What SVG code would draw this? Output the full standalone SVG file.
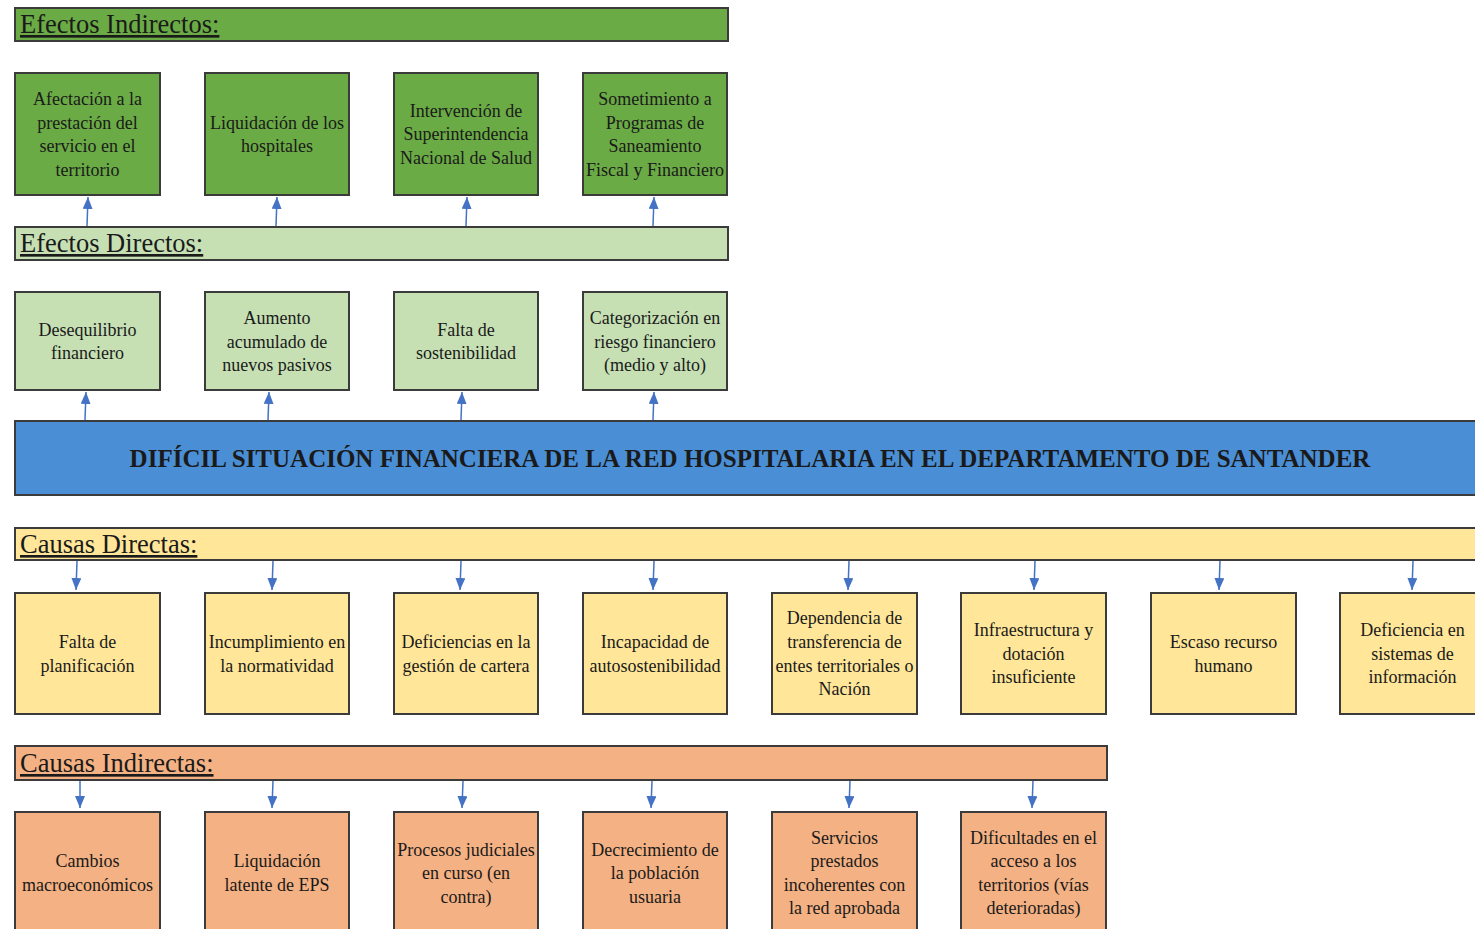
<svg xmlns="http://www.w3.org/2000/svg" width="1475" height="929" viewBox="0 0 1475 929">
<defs>
<marker id="ah" markerWidth="12" markerHeight="10" refX="12" refY="5" orient="auto" markerUnits="userSpaceOnUse" viewBox="0 0 12 10">
<path d="M0,0 L12,5 L0,10 Z" fill="#4472c4"/>
</marker>
<style>
.box{stroke:#3b3b3b;stroke-width:2}
.g1{fill:#6aab45}
.g2{fill:#c6e0b4}
.bl{fill:#4a8fd6}
.ye{fill:#ffe699}
.or{fill:#f4b183}
.t{font-family:'Liberation Serif','Tinos','DejaVu Serif',serif;font-size:18px;fill:#1a1a1a;text-anchor:middle}
.h{font-family:'Liberation Serif','Tinos','DejaVu Serif',serif;font-size:26.5px;fill:#1a1a1a;text-decoration:underline}
.m{font-family:'Liberation Serif','Tinos','DejaVu Serif',serif;font-size:25px;font-weight:bold;fill:#1a1a1a;text-anchor:middle}
.c{stroke:#4472c4;stroke-width:1.5;fill:none;marker-end:url(#ah)}
</style>
</defs>
<rect width="1475" height="929" fill="#ffffff"/>

<g id="hdr-efectos-indirectos"><rect class="box g1" x="15" y="8" width="713" height="33"/><text class="h" x="20" y="33">Efectos Indirectos:</text></g>
<g id="hdr-efectos-directos"><rect class="box g2" x="15" y="227" width="713" height="33"/><text class="h" x="20" y="252">Efectos Directos:</text></g>
<g id="problema"><rect class="box bl" x="15" y="421" width="1470" height="74"/><text class="m" x="750" y="467">DIFÍCIL SITUACIÓN FINANCIERA DE LA RED HOSPITALARIA EN EL DEPARTAMENTO DE SANTANDER</text></g>
<g id="hdr-causas-directas"><rect class="box ye" x="15" y="528" width="1470" height="32"/><text class="h" x="20" y="553">Causas Directas:</text></g>
<g id="hdr-causas-indirectas"><rect class="box or" x="15" y="746" width="1092" height="34"/><text class="h" x="20" y="772">Causas Indirectas:</text></g>

<!-- Efectos indirectos -->
<g id="ei1"><rect class="box g1" x="15" y="73" width="145" height="122"/><text class="t" x="87.5" y="105">Afectación a la</text><text class="t" x="87.5" y="129">prestación del</text><text class="t" x="87.5" y="152">servicio en el</text><text class="t" x="87.5" y="176">territorio</text></g>
<g id="ei2"><rect class="box g1" x="205" y="73" width="144" height="122"/><text class="t" x="277" y="129">Liquidación de los</text><text class="t" x="277" y="152">hospitales</text></g>
<g id="ei3"><rect class="box g1" x="394" y="73" width="144" height="122"/><text class="t" x="466" y="117">Intervención de</text><text class="t" x="466" y="140">Superintendencia</text><text class="t" x="466" y="164">Nacional de Salud</text></g>
<g id="ei4"><rect class="box g1" x="583" y="73" width="144" height="122"/><text class="t" x="655" y="105">Sometimiento a</text><text class="t" x="655" y="129">Programas de</text><text class="t" x="655" y="152">Saneamiento</text><text class="t" x="655" y="176">Fiscal y Financiero</text></g>

<!-- Efectos directos -->
<g id="ed1"><rect class="box g2" x="15" y="292" width="145" height="98"/><text class="t" x="87.5" y="336">Desequilibrio</text><text class="t" x="87.5" y="359">financiero</text></g>
<g id="ed2"><rect class="box g2" x="205" y="292" width="144" height="98"/><text class="t" x="277" y="324">Aumento</text><text class="t" x="277" y="348">acumulado de</text><text class="t" x="277" y="371">nuevos pasivos</text></g>
<g id="ed3"><rect class="box g2" x="394" y="292" width="144" height="98"/><text class="t" x="466" y="336">Falta de</text><text class="t" x="466" y="359">sostenibilidad</text></g>
<g id="ed4"><rect class="box g2" x="583" y="292" width="144" height="98"/><text class="t" x="655" y="324">Categorización en</text><text class="t" x="655" y="348">riesgo financiero</text><text class="t" x="655" y="371">(medio y alto)</text></g>

<!-- Causas directas -->
<g id="cd1"><rect class="box ye" x="15" y="593" width="145" height="121"/><text class="t" x="87.5" y="648">Falta de</text><text class="t" x="87.5" y="672">planificación</text></g>
<g id="cd2"><rect class="box ye" x="205" y="593" width="144" height="121"/><text class="t" x="277" y="648">Incumplimiento en</text><text class="t" x="277" y="672">la normatividad</text></g>
<g id="cd3"><rect class="box ye" x="394" y="593" width="144" height="121"/><text class="t" x="466" y="648">Deficiencias en la</text><text class="t" x="466" y="672">gestión de cartera</text></g>
<g id="cd4"><rect class="box ye" x="583" y="593" width="144" height="121"/><text class="t" x="655" y="648">Incapacidad de</text><text class="t" x="655" y="672">autosostenibilidad</text></g>
<g id="cd5"><rect class="box ye" x="772" y="593" width="145" height="121"/><text class="t" x="844.5" y="624">Dependencia de</text><text class="t" x="844.5" y="648">transferencia de</text><text class="t" x="844.5" y="672">entes territoriales o</text><text class="t" x="844.5" y="695">Nación</text></g>
<g id="cd6"><rect class="box ye" x="961" y="593" width="145" height="121"/><text class="t" x="1033.5" y="636">Infraestructura y</text><text class="t" x="1033.5" y="660">dotación</text><text class="t" x="1033.5" y="683">insuficiente</text></g>
<g id="cd7"><rect class="box ye" x="1151" y="593" width="145" height="121"/><text class="t" x="1223.5" y="648">Escaso recurso</text><text class="t" x="1223.5" y="672">humano</text></g>
<g id="cd8"><rect class="box ye" x="1340" y="593" width="145" height="121"/><text class="t" x="1412.5" y="636">Deficiencia en</text><text class="t" x="1412.5" y="660">sistemas de</text><text class="t" x="1412.5" y="683">información</text></g>

<!-- Causas indirectas -->
<g id="ci1"><rect class="box or" x="15" y="812" width="145" height="130"/><text class="t" x="87.5" y="867">Cambios</text><text class="t" x="87.5" y="891">macroeconómicos</text></g>
<g id="ci2"><rect class="box or" x="205" y="812" width="144" height="130"/><text class="t" x="277" y="867">Liquidación</text><text class="t" x="277" y="891">latente de EPS</text></g>
<g id="ci3"><rect class="box or" x="394" y="812" width="144" height="130"/><text class="t" x="466" y="856">Procesos judiciales</text><text class="t" x="466" y="879">en curso (en</text><text class="t" x="466" y="903">contra)</text></g>
<g id="ci4"><rect class="box or" x="583" y="812" width="144" height="130"/><text class="t" x="655" y="856">Decrecimiento de</text><text class="t" x="655" y="879">la población</text><text class="t" x="655" y="903">usuaria</text></g>
<g id="ci5"><rect class="box or" x="772" y="812" width="145" height="130"/><text class="t" x="844.5" y="844">Servicios</text><text class="t" x="844.5" y="867">prestados</text><text class="t" x="844.5" y="891">incoherentes con</text><text class="t" x="844.5" y="914">la red aprobada</text></g>
<g id="ci6"><rect class="box or" x="961" y="812" width="145" height="130"/><text class="t" x="1033.5" y="844">Dificultades en el</text><text class="t" x="1033.5" y="867">acceso a los</text><text class="t" x="1033.5" y="891">territorios (vías</text><text class="t" x="1033.5" y="914">deterioradas)</text></g>

<g id="connectors">
<path class="c" d="M87,226 L88,197"/>
<path class="c" d="M276,226 L277,197"/>
<path class="c" d="M466,226 L467,197"/>
<path class="c" d="M653,226 L654,197"/>
<path class="c" d="M85,420 L86,392"/>
<path class="c" d="M268,420 L269,392"/>
<path class="c" d="M461,420 L462,392"/>
<path class="c" d="M653,420 L654,392"/>
<path class="c" d="M77,561 L76,590"/>
<path class="c" d="M273,561 L272,590"/>
<path class="c" d="M461,561 L460,590"/>
<path class="c" d="M654,561 L653,590"/>
<path class="c" d="M849,561 L848,590"/>
<path class="c" d="M1035,561 L1034,590"/>
<path class="c" d="M1220,561 L1219,590"/>
<path class="c" d="M1413,561 L1412,590"/>
<path class="c" d="M80,781 L80,808"/>
<path class="c" d="M273,781 L272,808"/>
<path class="c" d="M463,781 L462,808"/>
<path class="c" d="M652,781 L651,808"/>
<path class="c" d="M850,781 L849,808"/>
<path class="c" d="M1033,781 L1032,808"/>
</g>
</svg>
